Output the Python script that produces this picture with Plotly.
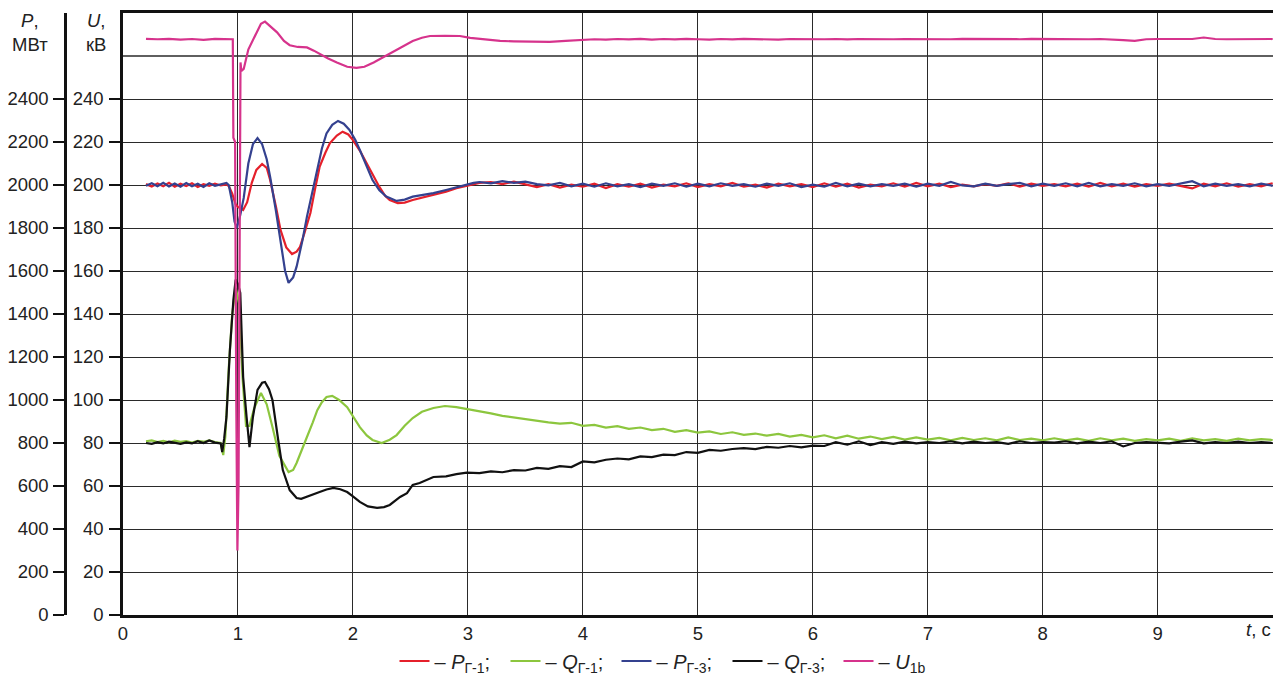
import plotly.graph_objects as go

# ---------------- data ----------------
t_pre = [0.20, 0.25, 0.30, 0.35, 0.40, 0.45, 0.50, 0.55, 0.60, 0.65, 0.70, 0.75, 0.80, 0.85]
t_tail = [3.1, 3.2, 3.3, 3.4, 3.5, 3.6, 3.7, 3.8, 3.9, 4.0,
          4.1, 4.2, 4.3, 4.4, 4.5, 4.6, 4.7, 4.8, 4.9, 5.0,
          5.1, 5.2, 5.3, 5.4, 5.5, 5.6, 5.7, 5.8, 5.9, 6.0,
          6.1, 6.2, 6.3, 6.4, 6.5, 6.6, 6.7, 6.8, 6.9, 7.0,
          7.1, 7.2, 7.3, 7.4, 7.5, 7.6, 7.7, 7.8, 7.9, 8.0,
          8.1, 8.2, 8.3, 8.4, 8.5, 8.6, 8.7, 8.8, 8.9, 9.0,
          9.1, 9.2, 9.3, 9.4, 9.5, 9.6, 9.7, 9.8, 9.9, 10.0]

# P_G-1 (red), MW
p1_pre = [2004, 1993, 2007, 1994, 2010, 1992, 2006, 1995, 2008, 1991, 2004, 1996, 2006, 1998]
p1_tr_t = [0.90, 0.92, 0.95, 0.98, 1.00, 1.045, 1.08, 1.12, 1.16, 1.21, 1.25, 1.28, 1.33, 1.37, 1.42,
           1.47, 1.51, 1.54, 1.58, 1.63, 1.67, 1.71, 1.76, 1.80, 1.86, 1.91, 1.96, 2.00, 2.06,
           2.12, 2.18, 2.23, 2.28, 2.32, 2.39, 2.45, 2.52, 2.60, 2.70, 2.81, 2.90, 3.00, 3.05]
p1_tr = [2003, 1995, 1960, 1910, 1898, 1884, 1920, 2010, 2070, 2098, 2080, 2023, 1900, 1791, 1710,
         1679, 1690, 1712, 1780, 1870, 1980, 2084, 2150, 2195, 2230, 2248, 2235, 2209, 2160,
         2102, 2040, 1991, 1950, 1930, 1916, 1918, 1930, 1940, 1955, 1969, 1985, 1998, 2005]
p1_tail = [2010, 2014, 2004, 2016, 2002, 1990, 2004, 1988, 2002, 1992,
           2006, 1986, 2004, 1992, 2006, 1988, 2002, 1994, 2008, 1990,
           2004, 1994, 2010, 1992, 2002, 1988, 2006, 1994, 2004, 1990,
           2008, 1992, 2006, 1988, 2002, 1994, 2008, 1992, 2010, 1994,
           2006, 1990, 2002, 1994, 2004, 1996, 2008, 1992, 2006, 1996,
           2004, 1994, 2006, 1992, 2010, 1994, 2006, 1992, 2004, 1996,
           2006, 1994, 1984, 2006, 1994, 2008, 1992, 2004, 1994, 2008]

# P_G-3 (blue), MW
p3_pre = [1996, 2008, 1994, 2010, 1993, 2007, 1992, 2009, 1994, 2006, 1991, 2008, 1996, 2004]
p3_tr_t = [0.90, 0.92, 0.95, 0.97, 0.99, 1.02, 1.05, 1.09, 1.13, 1.17, 1.21, 1.25, 1.28, 1.33, 1.37,
           1.41, 1.44, 1.48, 1.51, 1.56, 1.60, 1.65, 1.69, 1.73, 1.77, 1.82, 1.87, 1.92, 1.97,
           2.02, 2.06, 2.12, 2.17, 2.23, 2.29, 2.38, 2.45, 2.52, 2.60, 2.70, 2.81, 2.90, 3.00, 3.05]
p3_tr = [2010, 2000, 1920, 1830, 1800, 1860, 1940, 2100, 2190, 2218, 2190, 2120, 2037, 1880, 1744,
         1600, 1545, 1570, 1620, 1740, 1853, 1970, 2070, 2170, 2240, 2280, 2298, 2285, 2256,
         2210, 2163, 2090, 2023, 1975, 1946, 1926, 1932, 1946, 1952, 1962, 1977, 1990, 2003, 2010]
p3_tail = [2014, 2008, 2018, 2010, 2016, 2004, 1998, 2010, 1994, 2006,
           1992, 2008, 1994, 2004, 1990, 2006, 1996, 2008, 1992, 2006,
           1994, 2008, 1996, 2004, 1992, 2006, 1996, 2008, 1990, 2002,
           1992, 2010, 1994, 2006, 1994, 2004, 1996, 2006, 1992, 2006,
           1996, 2014, 1998, 1994, 2006, 1996, 2004, 2010, 1994, 2006,
           1996, 2008, 1994, 2010, 1994, 2004, 1996, 2008, 1994, 2004,
           1996, 2008, 2018, 1994, 2006, 1996, 2004, 1994, 2006, 1996]

# Q_G-1 (green), Mvar on the MW scale
q1_pre = [808, 812, 804, 810, 803, 811, 805, 809, 802, 810, 806, 812, 804, 800]
q1_tr_t = [0.872, 0.89, 0.92, 0.95, 0.98, 1.01, 1.04, 1.07, 1.10, 1.14, 1.20, 1.25, 1.30, 1.36,
           1.44, 1.48, 1.51, 1.56, 1.60, 1.65, 1.69, 1.73, 1.77, 1.82, 1.88, 1.95, 2.00, 2.06,
           2.12, 2.17, 2.25, 2.32, 2.38, 2.45, 2.52, 2.60, 2.70, 2.80, 2.90, 3.00]
q1_tr = [744, 830, 1150, 1400, 1520, 1450, 1100, 880, 880, 960, 1033, 980, 874, 740,
         665, 675, 707, 770, 828, 895, 953, 990, 1014, 1019, 1000, 967, 925, 874,
         835, 814, 800, 815, 837, 880, 916, 945, 963, 972, 967, 958]
q1_tail = [948, 938, 926, 918, 910, 902, 896, 890, 894, 880,
           884, 872, 878, 866, 872, 860, 866, 852, 860, 848,
           854, 842, 850, 838, 844, 834, 842, 830, 838, 826,
           836, 822, 834, 820, 830, 818, 828, 816, 826, 816,
           824, 812, 824, 814, 822, 812, 826, 814, 820, 812,
           822, 812, 820, 810, 822, 812, 820, 810, 818, 812,
           820, 810, 822, 812, 818, 810, 820, 812, 818, 814]

# Q_G-3 (black), Mvar on the MW scale
q3_pre = [800, 796, 804, 798, 806, 800, 796, 803, 798, 808, 800, 812, 802, 798]
q3_tr_t = [0.863, 0.88, 0.90, 0.93, 0.96, 0.98, 1.00, 1.02, 1.045, 1.075, 1.10, 1.13, 1.17, 1.21,
           1.235, 1.27, 1.30, 1.35, 1.39, 1.45, 1.51, 1.55, 1.60, 1.66, 1.71, 1.77, 1.83, 1.89,
           1.95, 2.00, 2.06, 2.13, 2.21, 2.27, 2.32, 2.41, 2.47, 2.52, 2.58, 2.70, 2.81, 2.90, 2.99]
q3_tr = [758, 820, 921, 1233, 1465, 1560, 1540, 1498, 1107, 921, 781, 921, 1047, 1080,
         1084, 1050, 1000, 814, 674, 581, 544, 540, 549, 562, 572, 584, 591, 585,
         572, 552, 526, 505, 498, 502, 512, 549, 567, 605, 614, 642, 645, 655, 662]
q3_tail = [660, 668, 664, 674, 672, 684, 680, 692, 688, 714,
           710, 722, 728, 724, 738, 734, 746, 744, 758, 754,
           768, 764, 772, 776, 772, 782, 778, 786, 780, 788,
           786, 804, 792, 808, 790, 804, 796, 806, 798, 804,
           800, 808, 798, 806, 800, 804, 796, 808, 800, 804,
           802, 808, 798, 806, 800, 808, 784, 800, 804, 802,
           798, 806, 812, 798, 804, 800, 806, 800, 804, 800]

# U_1b (magenta), kV
u_t = [0.20, 0.30, 0.40, 0.50, 0.60, 0.70, 0.80, 0.90, 0.955, 0.96, 0.975, 0.985, 0.995, 1.005,
       1.015, 1.022, 1.03, 1.05, 1.09, 1.15, 1.20, 1.235, 1.28, 1.34, 1.40, 1.45, 1.52, 1.60,
       1.66, 1.71, 1.78, 1.86, 1.95, 2.03, 2.10, 2.18, 2.25, 2.32, 2.42, 2.52, 2.60, 2.67,
       2.80, 2.93, 3.02, 3.15, 3.28, 3.40, 3.57, 3.71, 3.85, 4.0,
       4.1, 4.2, 4.3, 4.4, 4.5, 4.6, 4.7, 4.8, 4.9, 5.0,
       5.1, 5.2, 5.3, 5.4, 5.5, 5.6, 5.7, 5.8, 5.9, 6.0,
       6.1, 6.2, 6.3, 6.4, 6.5, 6.6, 6.7, 6.8, 6.9, 7.0,
       7.1, 7.2, 7.3, 7.4, 7.5, 7.6, 7.7, 7.8, 7.9, 8.0,
       8.1, 8.2, 8.3, 8.4, 8.5, 8.6, 8.7, 8.8, 8.9, 9.0,
       9.1, 9.2, 9.3, 9.4, 9.5, 9.6, 9.7, 9.8, 9.9, 10.0]
u_v = [268.0, 267.8, 268.0, 267.6, 267.9, 267.5, 268.0, 267.8, 267.8, 222.0, 220.0, 100.0, 30.0, 60.0,
       220.0, 257.0, 253.0, 254.0, 263.0, 270.0, 275.0, 276.0, 274.0, 271.0, 267.0, 265.0, 264.2, 264.0,
       262.5, 261.0, 259.0, 257.0, 255.0, 254.5, 255.0, 257.0, 259.0, 261.0, 264.0, 267.0, 268.5, 269.3,
       269.4, 269.3, 268.4, 267.8, 267.0, 266.8, 266.5, 266.6, 267.0, 267.4,
       267.8, 267.6, 267.9, 267.7, 268.0, 267.6, 267.9, 267.7, 268.0, 267.8,
       267.6, 267.9, 267.7, 268.0, 267.8, 267.9, 267.6, 267.9, 267.8, 268.0,
       267.8, 267.9, 267.7, 267.9, 267.8, 268.0, 267.8, 267.9, 267.8, 268.0,
       267.9, 267.8, 268.0, 267.9, 267.8, 268.0, 267.9, 267.8, 268.0, 267.9,
       267.8, 268.0, 267.9, 267.8, 267.9, 267.8, 267.4, 267.0, 267.8, 267.9,
       267.8, 268.0, 267.9, 268.6, 267.9, 267.8, 267.9, 268.0, 267.9, 267.9]

p_ticks = [0, 200, 400, 600, 800, 1000, 1200, 1400, 1600, 1800, 2000, 2200, 2400]
u_ticks = [0, 20, 40, 60, 80, 100, 120, 140, 160, 180, 200, 220, 240]
x_ticks = [0, 1, 2, 3, 4, 5, 6, 7, 8, 9]

names = ["– <i>P</i><sub>Г-1</sub>;", "– <i>Q</i><sub>Г-1</sub>;", "– <i>P</i><sub>Г-3</sub>;",
         "– <i>Q</i><sub>Г-3</sub>;", "– <i>U</i><sub>1b</sub>"]
colors = ["#e5202b", "#8cc63e", "#34418f", "#111111", "#d6338c"]

# ---------------- figure ----------------
FONT = "Arial, Liberation Sans, Helvetica, sans-serif"
OFF = 8                      # page body margin of the html page
W, H = 1281 - OFF, 677 - OFF
PL, PR, PT, PB = 123, 1275, 13, 615   # plot area in page pixels
ML, MT = 2, PT - OFF
MR = W - (PR - OFF)
MB = H - (PB - OFF)
pw = W - ML - MR
ph = H - MT - MB


def px(xpage):
    return (xpage - OFF - ML) / pw


def py(ypage):
    return (PB - ypage) / ph


def cy(ypage):
    return (H - (ypage - OFF)) / H


fig = go.Figure()
series = [
    (t_pre + p1_tr_t + t_tail, p1_pre + p1_tr + p1_tail, "y"),
    (t_pre + q1_tr_t + t_tail, q1_pre + q1_tr + q1_tail, "y"),
    (t_pre + p3_tr_t + t_tail, p3_pre + p3_tr + p3_tail, "y"),
    (t_pre + q3_tr_t + t_tail, q3_pre + q3_tr + q3_tail, "y"),
    (u_t, u_v, "y2"),
]
order = [1, 3, 0, 2, 4]
for i in order:
    tx, vy, ax = series[i]
    fig.add_trace(go.Scatter(x=tx, y=vy, yaxis=ax, mode="lines", name=names[i],
                             legendrank=i + 1,
                             line=dict(color=colors[i], width=2.2)))

FS = 18.5
fig.update_layout(
    width=W, height=H,
    margin=dict(l=ML, r=MR, t=MT, b=MB, autoexpand=False),
    paper_bgcolor="white", plot_bgcolor="white",
    font=dict(family=FONT, size=FS, color="#222"),
    showlegend=True,
    legend=dict(orientation="h", x=px(672), xanchor="center",
                yref="container", y=cy(661), yanchor="middle",
                font=dict(size=20, color="#222"), itemwidth=30, entrywidth=66,
                traceorder="normal", bgcolor="rgba(0,0,0,0)"),
    xaxis=dict(domain=[px(PL), 1], range=[0, 10.02], tickvals=x_ticks,
               showgrid=True, gridcolor="#2a2a2a", gridwidth=1.3,
               zeroline=False, showline=True, linecolor="#111", linewidth=2.5,
               mirror=True, ticks="", ticklabelstandoff=0, automargin=False,
               tickfont=dict(size=FS, color="#222")),
    yaxis=dict(anchor="free", position=px(65), side="left",
               range=[0, 2800], tickvals=p_ticks, automargin=False,
               showgrid=True, gridcolor="#2a2a2a", gridwidth=1.3,
               zeroline=False, showline=True, linecolor="#111", linewidth=2.5,
               ticks="outside", ticklen=11, tickwidth=2, tickcolor="#111",
               ticklabelstandoff=1, tickfont=dict(size=FS, color="#222")),
    yaxis2=dict(anchor="x", overlaying="y", side="left",
                range=[0, 280], tickvals=u_ticks, automargin=False,
                showgrid=False, zeroline=False, showline=True, linecolor="#111",
                linewidth=2.5, mirror=True,
                ticks="outside", ticklen=11, tickwidth=2, tickcolor="#111",
                ticklabelstandoff=2, tickfont=dict(size=FS, color="#222")),
)

fig.add_shape(type="line", xref="x", yref="y", x0=0, x1=10.02, y0=2600, y1=2600,
              line=dict(color="#2a2a2a", width=1.3), layer="below")

fig.add_annotation(text="<i>P</i>,<br>МВт", xref="paper", yref="paper",
                   x=px(30), y=py(8), xanchor="center", yanchor="top",
                   showarrow=False, font=dict(size=FS, color="#222"), align="center")
fig.add_annotation(text="<i>U</i>,<br>кВ", xref="paper", yref="paper",
                   x=px(96), y=py(8), xanchor="center", yanchor="top",
                   showarrow=False, font=dict(size=FS, color="#222"), align="center")
fig.add_annotation(text="<i>t</i>, c", xref="paper", yref="paper",
                   x=px(1258), y=py(629), xanchor="center", yanchor="middle",
                   showarrow=False, font=dict(size=FS, color="#222"))

fig.write_html("out.html")
